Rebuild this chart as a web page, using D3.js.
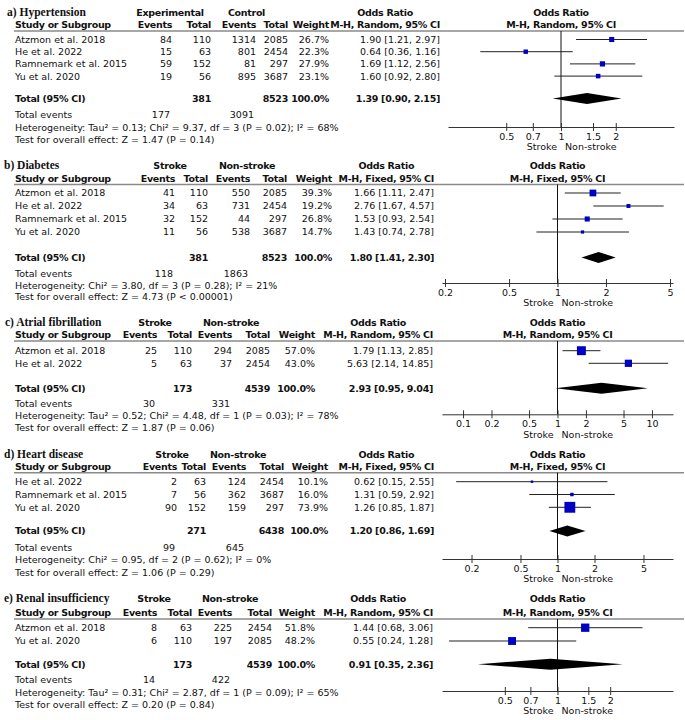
<!DOCTYPE html>
<html>
<head>
<meta charset="utf-8">
<script src="https://cdn.jsdelivr.net/npm/d3@7"></script>
<style>
  body { margin: 0; background: #fff; }
  text { font-family: "DejaVu Sans", sans-serif; font-size: 9.5px; fill: #111; }
  text.b { font-weight: bold; letter-spacing: -0.3px; }
  text.title { font-family: "Liberation Serif", serif; font-size: 11.5px; font-weight: bold; }
</style>
</head>
<body>
<svg id="chart" width="685" height="720"></svg>
<script>
// ---- data ----
const panelTitles = ['a) Hypertension', 'b) Diabetes', 'c) Atrial fibrillation', 'd) Heart disease', 'e) Renal insufficiency']
const groupLabels = [['Experimental', 'Control'], ['Stroke', 'Non-stroke'], ['Stroke', 'Non-stroke'], ['Stroke', 'Non-stroke'], ['Stroke', 'Non-stroke']]
const methods = ['M-H, Random, 95% CI', 'M-H, Fixed, 95% CI', 'M-H, Random, 95% CI', 'M-H, Fixed, 95% CI', 'M-H, Random, 95% CI']

const studyNames = [
  ['Atzmon et al. 2018', 'He et al. 2022', 'Ramnemark et al. 2015', 'Yu et al. 2020'],
  ['Atzmon et al. 2018', 'He et al. 2022', 'Ramnemark et al. 2015', 'Yu et al. 2020'],
  ['Atzmon et al. 2018', 'He et al. 2022'],
  ['He et al. 2022', 'Ramnemark et al. 2015', 'Yu et al. 2020'],
  ['Atzmon et al. 2018', 'Yu et al. 2020']
]
const strokeEvents = [[84, 15, 59, 19], [41, 34, 32, 11], [25, 5], [2, 7, 90], [8, 6]]
const strokeTotal = [[110, 63, 152, 56], [110, 63, 152, 56], [110, 63], [63, 56, 152], [63, 110]]
const controlEvents = [[1314, 801, 81, 895], [550, 731, 44, 538], [294, 37], [124, 362, 159], [225, 197]]
const controlTotal = [[2085, 2454, 297, 3687], [2085, 2454, 297, 3687], [2085, 2454], [2454, 3687, 297], [2454, 2085]]
const weights = [[26.7, 22.3, 27.9, 23.1], [39.3, 19.2, 26.8, 14.7], [57.0, 43.0], [10.1, 16.0, 73.9], [51.8, 48.2]]
const oddsRatio = [[1.90, 0.64, 1.69, 1.60], [1.66, 2.76, 1.53, 1.43], [1.79, 5.63], [0.62, 1.31, 1.26], [1.44, 0.55]]
const ciLow = [[1.21, 0.36, 1.12, 0.92], [1.11, 1.67, 0.93, 0.74], [1.13, 2.14], [0.15, 0.59, 0.85], [0.68, 0.24]]
const ciHigh = [[2.97, 1.16, 2.56, 2.80], [2.47, 4.57, 2.54, 2.78], [2.85, 14.85], [2.55, 2.92, 1.87], [3.06, 1.28]]

const totalStroke = [381, 381, 173, 271, 173]
const totalControl = [8523, 8523, 4539, 6438, 4539]
const totalEventsStroke = [177, 118, 30, 99, 14]
const totalEventsControl = [3091, 1863, 331, 645, 422]
const pooledOR = [1.39, 1.80, 2.93, 1.20, 0.91]
const pooledLow = [0.90, 1.41, 0.95, 0.86, 0.35]
const pooledHigh = [2.15, 2.30, 9.04, 1.69, 2.36]

const tau2 = [0.13, null, 0.52, null, 0.31]
const chi2 = [9.37, 3.80, 4.48, 0.95, 2.87]
const hetDf = [3, 3, 1, 2, 1]
const hetP = ['0.02', '0.28', '0.03', '0.62', '0.09']
const iSquared = [68, 21, 78, 0, 65]
const zValue = [1.47, 4.73, 1.87, 1.06, 0.20]
const zP = ['= 0.14', '< 0.00001', '= 0.06', '= 0.29', '= 0.84']

const axisTicks = [[0.5, 0.7, 1, 1.5, 2], [0.2, 0.5, 1, 2, 5], [0.1, 0.2, 0.5, 1, 2, 5, 10], [0.2, 0.5, 1, 2, 5], [0.5, 0.7, 1, 1.5, 2]]
const directionLabels = ['Stroke', 'Non-stroke']

// ---- layout per panel (pixel positions, not data) ----
const layout = [
  {head1: 13, head2: 24.5, rule: 31, row0: 39.5, step: 12.2, total: 98.5, events: 115, het: 127.5, test: 139.5, axis: 127,
   cols: [172, 211, 256, 288, 329], groups: [170, 246.5], orRight: 440, axisRange: [448, 674], axisMax: 4.18, titleX: 7},
  {head1: 166, head2: 178.5, rule: 184.5, row0: 193, step: 13, total: 257.5, events: 273.5, het: 285.5, test: 297, axis: 283,
   cols: [175, 208, 250, 287, 332], groups: [170, 247], orRight: 434, axisRange: [442, 673], axisMax: 5.22, titleX: 4},
  {head1: 323, head2: 335, rule: 341, row0: 350.7, step: 12.6, total: 388.3, events: 403.3, het: 415.3, test: 428, axis: 414.3,
   cols: [157, 192, 232, 270, 315], groups: [155, 231], orRight: 433, axisRange: [442, 673], axisMax: 16.7, titleX: 5},
  {head1: 455, head2: 466.5, rule: 472.7, row0: 481.7, step: 12.8, total: 531, events: 548, het: 560, test: 573, axis: 559,
   cols: [177, 206, 246, 284, 328], groups: [172, 238], orRight: 434, axisRange: [442, 673], axisMax: 8.69, titleX: 4},
  {head1: 598.5, head2: 612.3, rule: 619, row0: 627.7, step: 13.3, total: 664.3, events: 680, het: 692.3, test: 705, axis: 691,
   cols: [157, 192, 232, 272, 315], groups: [154, 230], orRight: 433, axisRange: [442, 673], axisMax: 4.57, titleX: 4}
]

const svg = d3.select('#chart')
const boxSize = d3.scalePow().exponent(0.75).domain([0, 100]).range([0, 13.6])
const fmt = d3.format('.2f')
const baseShift = 3.4

function drawPanel(p) {
  const L = layout[p]
  const g = svg.append('g')
  const x = d3.scaleLog().domain([1 / L.axisMax, L.axisMax]).range(L.axisRange)

  const txt = (xp, y, s, anchor = 'start', bold = false) =>
    g.append('text')
      .attr('class', bold ? 'b' : null)
      .attr('x', xp)
      .attr('y', y + baseShift)
      .attr('text-anchor', anchor)
      .text(s)

  // header
  g.append('text').attr('class', 'title').attr('x', L.titleX).attr('y', L.head1 + baseShift).text(panelTitles[p])
  txt(L.groups[0], L.head1, groupLabels[p][0], 'middle', true)
  txt(L.groups[1], L.head1, groupLabels[p][1], 'middle', true)

  txt(15, L.head2, 'Study or Subgroup', 'start', true)
  const colHeads = ['Events', 'Total', 'Events', 'Total', 'Weight']
  colHeads.forEach((h, i) => txt(L.cols[i], L.head2, h, 'end', true))

  const m = txt(L.orRight, L.head2, methods[p], 'end', true)
  const mw = m.node().getComputedTextLength()
  txt(L.orRight - mw / 2, L.head1, 'Odds Ratio', 'middle', true)

  const c1 = x(1)
  txt(c1, L.head1, 'Odds Ratio', 'middle', true)
  txt(c1, L.head2, methods[p], 'middle', true)

  g.append('line')
    .attr('x1', 14).attr('x2', 684)
    .attr('y1', L.rule).attr('y2', L.rule)
    .attr('stroke', '#8a8a8a').attr('stroke-width', 1.6)

  // study rows
  studyNames[p].forEach((name, i) => {
    const y = L.row0 + i * L.step
    txt(15, y, name)
    txt(L.cols[0], y, strokeEvents[p][i], 'end')
    txt(L.cols[1], y, strokeTotal[p][i], 'end')
    txt(L.cols[2], y, controlEvents[p][i], 'end')
    txt(L.cols[3], y, controlTotal[p][i], 'end')
    txt(L.cols[4], y, weights[p][i].toFixed(1) + '%', 'end')
    txt(L.orRight, y, `${fmt(oddsRatio[p][i])} [${fmt(ciLow[p][i])}, ${fmt(ciHigh[p][i])}]`, 'end')
  })

  // totals
  txt(15, L.total, 'Total (95% CI)', 'start', true)
  txt(L.cols[1], L.total, totalStroke[p], 'end', true)
  txt(L.cols[3], L.total, totalControl[p], 'end', true)
  txt(L.cols[4], L.total, '100.0%', 'end', true)
  txt(L.orRight, L.total, `${fmt(pooledOR[p])} [${fmt(pooledLow[p])}, ${fmt(pooledHigh[p])}]`, 'end', true)

  txt(15, L.events, 'Total events')
  txt(L.cols[0] - 2, L.events, totalEventsStroke[p], 'end')
  txt(L.cols[2] - 2, L.events, totalEventsControl[p], 'end')

  const tauPart = tau2[p] != null ? `Tau\u00b2 = ${fmt(tau2[p])}; ` : ''
  txt(15, L.het, `Heterogeneity: ${tauPart}Chi\u00b2 = ${fmt(chi2[p])}, df = ${hetDf[p]} (P = ${hetP[p]}); I\u00b2 = ${iSquared[p]}%`)
  txt(15, L.test, `Test for overall effect: Z = ${fmt(zValue[p])} (P ${zP[p]})`)

  // forest plot
  g.append('line')
    .attr('x1', c1).attr('x2', c1)
    .attr('y1', L.rule).attr('y2', L.axis)
    .attr('stroke', '#111').attr('stroke-width', 1)

  const rows = studyNames[p].map((name, i) => ({
    y: L.row0 + i * L.step,
    or: oddsRatio[p][i], lo: ciLow[p][i], hi: ciHigh[p][i], w: weights[p][i]
  }))

  g.selectAll('line.ci').data(rows).join('line')
    .attr('class', 'ci')
    .attr('x1', d => x(d.lo)).attr('x2', d => x(d.hi))
    .attr('y1', d => d.y).attr('y2', d => d.y)
    .attr('stroke', '#222').attr('stroke-width', 1)

  g.selectAll('rect.box').data(rows).join('rect')
    .attr('class', 'box')
    .attr('x', d => x(d.or) - boxSize(d.w) / 2)
    .attr('y', d => d.y - boxSize(d.w) / 2)
    .attr('width', d => boxSize(d.w))
    .attr('height', d => boxSize(d.w))
    .attr('fill', '#0000c4')

  const dy = 5.5
  const ty = L.total
  g.append('polygon')
    .attr('points', [
      [x(pooledLow[p]), ty], [x(pooledOR[p]), ty - dy],
      [x(pooledHigh[p]), ty], [x(pooledOR[p]), ty + dy]
    ].map(pt => pt.join(',')).join(' '))
    .attr('fill', '#000')

  // axis
  const ax = g.append('g')
    .attr('transform', `translate(0,${L.axis})`)
    .call(d3.axisBottom(x).tickValues(axisTicks[p]).tickFormat(d => d).tickSizeOuter(0).tickSizeInner(4).tickPadding(2))
  ax.select('.domain').attr('stroke', '#333')
  ax.selectAll('.tick line').attr('y1', -4).attr('y2', 4).attr('stroke', '#333')

  txt(c1 - 4, L.axis + 20, directionLabels[0], 'end')
  txt(c1 + 4, L.axis + 20, directionLabels[1], 'start')
}

panelTitles.forEach((t, p) => drawPanel(p))
</script>
</body>
</html>
